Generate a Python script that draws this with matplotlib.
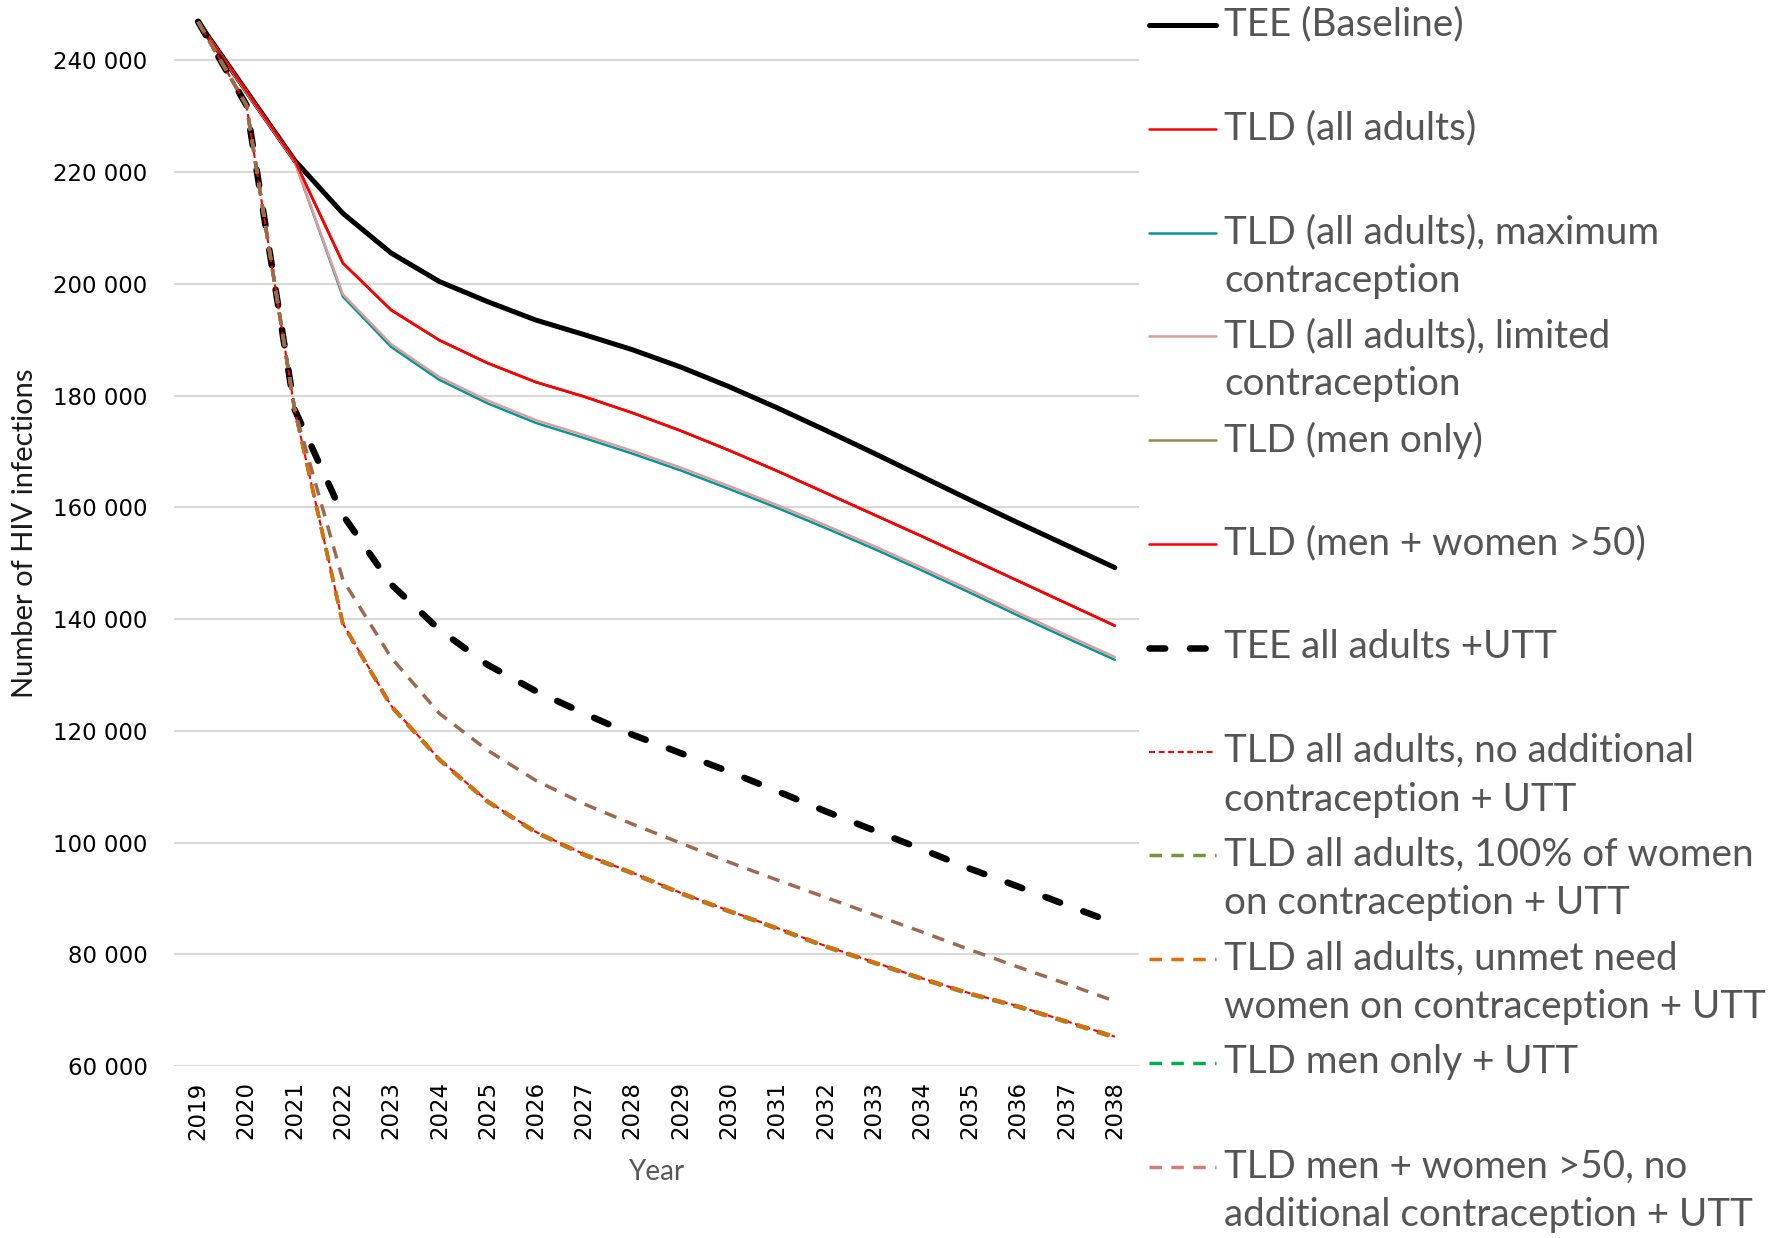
import numpy as np
import matplotlib
matplotlib.use("Agg")
import matplotlib.pyplot as plt
from matplotlib.lines import Line2D

years = [str(y) for y in range(2019, 2039)]

tee_base = [246900, 234500, 222100, 212600, 205500, 200400, 196800, 193500, 190900, 188200,
            185100, 181600, 177800, 173800, 169700, 165500, 161300, 157200, 153200, 149200]
tld_all = [246900, 234500, 222100, 203700, 195300, 189900, 185800, 182400, 179800, 176900,
           173700, 170200, 166500, 162600, 158700, 154800, 150800, 146800, 142800, 138800]
tld_max = [246900, 234300, 221900, 197700, 188700, 182800, 178600, 175100, 172400, 169600,
           166600, 163300, 159900, 156300, 152600, 148700, 144700, 140600, 136600, 132700]
tld_lim = [246900, 234300, 221900, 198100, 189200, 183300, 179100, 175600, 172900, 170100,
           167100, 163800, 160400, 156800, 153100, 149200, 145200, 141100, 137100, 133200]
tld_men = [246900, 234500, 222100, 203700, 195300, 189900, 185800, 182400, 179800, 176900,
           173700, 170200, 166500, 162600, 158700, 154800, 150800, 146800, 142800, 138800]
tld_men_w50 = [246900, 234500, 222100, 203700, 195300, 189900, 185800, 182400, 179800, 176900,
               173700, 170200, 166500, 162600, 158700, 154800, 150800, 146800, 142800, 138800]
tee_utt = [246900, 232000, 177500, 158600, 146200, 138100, 131800, 127100, 123100, 119300,
           116000, 112700, 109200, 105600, 102200, 98800, 95300, 92100, 88800, 85550]
tld_noadd_utt = [246900, 232000, 177500, 139200, 124500, 114900, 107400, 101900, 97900, 94600,
                 91000, 87800, 84700, 81500, 78600, 75700, 73000, 70700, 68000, 65250]
tld_100_utt = [246900, 232000, 177500, 139000, 124300, 114700, 107200, 101700, 97700, 94400,
               90800, 87600, 84500, 81300, 78400, 75500, 72800, 70500, 67800, 65000]
tld_unmet_utt = [246900, 232000, 177500, 139200, 124500, 114900, 107400, 101900, 97900, 94600,
                 91000, 87800, 84700, 81500, 78600, 75700, 73000, 70700, 68000, 65250]
tld_menonly_utt = [246900, 232000, 177500, 139200, 124500, 114900, 107400, 101900, 97900, 94600,
                   91000, 87800, 84700, 81500, 78600, 75700, 73000, 70700, 68000, 65250]
tld_w50_utt = [246900, 232000, 177500, 147000, 133100, 123100, 116500, 111100, 106900, 103300,
               99900, 96500, 93300, 90200, 87100, 84000, 80800, 77700, 74700, 71600]

labels = [
    "TEE (Baseline)",
    "TLD (all adults)",
    "TLD (all adults), maximum\ncontraception",
    "TLD (all adults), limited\ncontraception",
    "TLD (men only)",
    "TLD (men + women >50)",
    "TEE all adults +UTT",
    "TLD all adults, no additional\ncontraception + UTT",
    "TLD all adults, 100% of women\non contraception + UTT",
    "TLD all adults, unmet need\nwomen on contraception + UTT",
    "TLD men only + UTT",
    "TLD men + women >50, no\nadditional contraception + UTT",
]

series = [tee_base, tld_all, tld_max, tld_lim, tld_men, tld_men_w50,
          tee_utt, tld_noadd_utt, tld_100_utt, tld_unmet_utt, tld_menonly_utt, tld_w50_utt]

# line styles: (color, width, dashes, capstyle, zorder)
styles = [
    ("#000000", 3.6, None, "round", 2.0),
    ("#FF0000", 1.8, None, "round", 2.1),
    ("#009999", 1.8, None, "round", 2.2),
    ("#E39A9A", 1.8, None, "round", 2.3),
    ("#948A54", 1.8, None, "round", 2.05),
    ("#FF0000", 1.8, None, "round", 2.4),
    ("#000000", 4.7, (2.4, 3.8), "round", 2.5),
    ("#FF0000", 1.5, (2.9, 1.7), "butt", 2.7),
    ("#77933C", 2.5, (3.6, 2.7), "butt", 2.65),
    ("#E36C09", 2.5, (3.6, 2.7), "butt", 2.8),
    ("#00B050", 2.5, (3.6, 2.7), "butt", 2.6),
    ("#9C6A50", 2.5, (3.6, 2.7), "butt", 2.9),
]
legend_colors = [s[0] for s in styles]
legend_colors[11] = "#D47C78"

W, H = 1784, 1238
fig = plt.figure(figsize=(W / 100, H / 100), dpi=100)
ax = fig.add_axes([174 / W, 1 - 1066 / H, (1139 - 174) / W, (1066 - 4.4) / H])

x = np.arange(len(years))
for vals, (c, lw, d, cap, z) in zip(series, styles):
    ln, = ax.plot(x, vals, color=c, lw=lw, solid_capstyle=cap, solid_joinstyle="round",
                  dash_capstyle=cap, zorder=z)
    if d is not None:
        ln.set_dashes(d)

ax.set_xlim(-0.5, len(years) - 0.5)
ax.set_ylim(60000, 250000)
ax.set_xticks(x)
ax.set_xticklabels(years, rotation=90, fontsize=16.5, family="DejaVu Sans")
yt = np.arange(60000, 240001, 20000)
ax.set_yticks(yt)
ax.set_yticklabels([f"{v:,.0f}".replace(",", " ") for v in yt], fontsize=16.5, family="DejaVu Sans")
ax.tick_params(axis="both", length=0)
ax.tick_params(axis="y", pad=19)
ax.tick_params(axis="x", pad=11)
ax.yaxis.grid(True, color="#D9D9D9", lw=1.5)
ax.set_axisbelow(True)
for s in ax.spines.values():
    s.set_visible(False)

fig.text(656 / W, 1 - 1172 / H, "Year", fontsize=20, family="Lato", color="#595959",
         ha="center", va="center")
fig.text(25 / W, 1 - 533 / H, "Number of HIV infections", fontsize=21, family="Lato",
         color="#1a1a1a", rotation=90, ha="center", va="center")

# legend drawn by hand so the key sits on the first text line
for i, (lab, (c, lw, d, cap, z)) in enumerate(zip(labels, styles)):
    yc = 25 + 103.8 * i
    yf = 1 - yc / H
    h = Line2D([1149 / W, 1216 / W], [yf, yf], transform=fig.transFigure,
               color=legend_colors[i], lw=lw, solid_capstyle=cap, dash_capstyle=cap)
    if d is not None:
        h.set_dashes(d)
    fig.add_artist(h)
    fig.text(1224 / W, 1 - (yc - 18.5) / H, lab, fontsize=27.8, family="Lato", color="#555555",
             ha="left", va="top", linespacing=1.43)

fig.savefig("out.png", dpi=100)
